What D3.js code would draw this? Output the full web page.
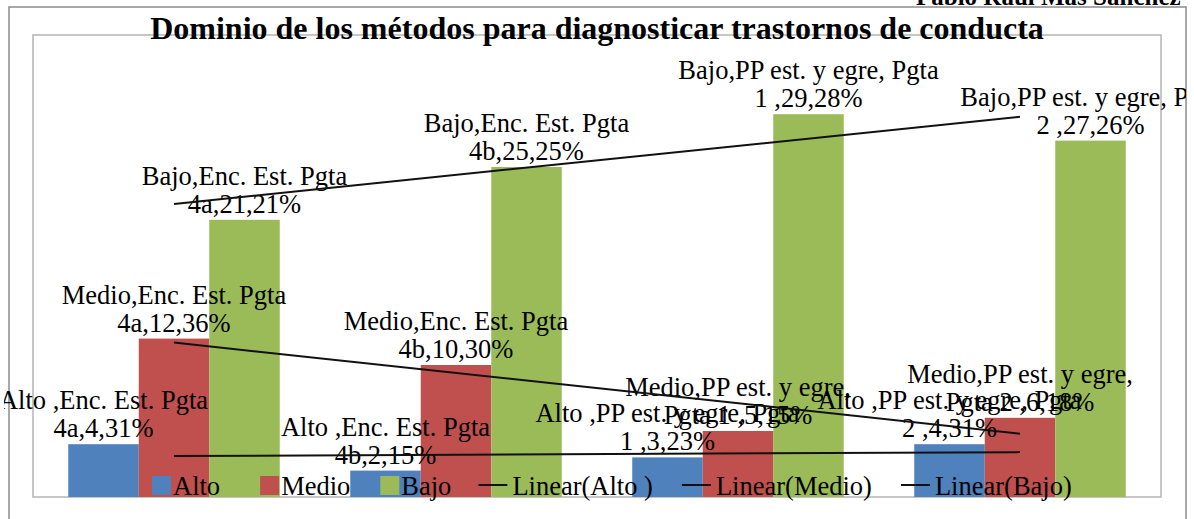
<!DOCTYPE html>
<html>
<head>
<meta charset="utf-8">
<script src="https://cdn.jsdelivr.net/npm/d3@7"></script>
<style>
  body { margin: 0; background: #fff; }
  svg text { font-family: "Liberation Serif", "Times New Roman", serif; fill: #000; }
</style>
</head>
<body>
<script>
const width = 1194, height = 519;

// chart data
const categories = ["Enc. Est. Pgta 4a", "Enc. Est. Pgta 4b", "PP est. y egre, Pgta 1 ", "PP est. y egre, Pgta 2 "];
const seriesNames = ["Alto ", "Medio", "Bajo"];
const alto = [4, 2, 3, 4];
const medio = [12, 10, 5, 6];
const bajo = [21, 25, 29, 27];
const colors = ["#4F81BD", "#C0504D", "#9BBB59"];
const title = "Dominio de los métodos para diagnosticar trastornos de conducta";
const author = "Pablo Raúl Mas Sánchez";

const series = seriesNames.map((name, i) => ({
    name: name,
    values: [alto, medio, bajo][i],
    color: colors[i]
}));

const plot = { left: 33, top: 35, right: 1161, bottom: 497 };
const fontSize = 26.5;

const svg = d3.select("body").append("svg")
    .attr("width", width)
    .attr("height", height);

// chart area + plot area frames
svg.append("rect")
    .attr("x", 9).attr("y", 7)
    .attr("width", 1177).attr("height", 600)
    .attr("fill", "#fff")
    .attr("stroke", "#8c8c8c").attr("stroke-width", 1.5);

svg.append("rect")
    .attr("x", plot.left).attr("y", plot.top)
    .attr("width", plot.right - plot.left).attr("height", plot.bottom - plot.top)
    .attr("fill", "none")
    .attr("stroke", "#b4b4b4").attr("stroke-width", 1.5);

svg.append("clipPath").attr("id", "chartClip")
  .append("rect")
    .attr("x", 4).attr("y", 0)
    .attr("width", 1182).attr("height", height);

const x0 = d3.scaleBand()
    .domain(categories)
    .range([plot.left, plot.right])
    .paddingInner(0.25)
    .paddingOuter(0.125);

const x1 = d3.scaleBand()
    .domain(seriesNames)
    .range([0, x0.bandwidth()]);

const y = d3.scaleLinear()
    .domain([0, 35])
    .range([plot.bottom, plot.top]);

// bars
const groups = svg.selectAll(".series")
    .data(series)
    .enter().append("g")
    .attr("class", "series")
    .attr("fill", d => d.color);

groups.selectAll("rect")
    .data(s => s.values.map((v, i) => ({ s: s, v: v, cat: categories[i] })))
    .enter().append("rect")
    .attr("x", d => x0(d.cat) + x1(d.s.name))
    .attr("y", d => y(d.v))
    .attr("width", x1.bandwidth())
    .attr("height", d => y(0) - y(d.v));

// data labels, wrapped like excel does
function wrapLines(textSel, str, maxW) {
    const words = str.split(" ");
    const probe = textSel.append("tspan");
    const lines = [];
    let cur = "";
    words.forEach(w => {
        const test = cur ? cur + " " + w : w;
        probe.text(test);
        if (probe.node().getComputedTextLength() > maxW && cur) {
            lines.push(cur);
            cur = w;
        } else {
            cur = test;
        }
    });
    lines.push(cur);
    probe.remove();
    return lines;
}

const labelLayer = svg.append("g").attr("clip-path", "url(#chartClip)");

series.forEach(s => {
    const total = d3.sum(s.values);
    s.values.forEach((v, i) => {
        const pct = Math.round(v / total * 100);
        const str = `${s.name},${categories[i]},${v},${pct}%`;
        const cx = x0(categories[i]) + x1(s.name) + x1.bandwidth() / 2;
        const t = labelLayer.append("text")
            .attr("text-anchor", "middle")
            .style("font-size", fontSize + "px");
        const lines = wrapLines(t, str, 272);
        const lastY = y(v) - 7;
        lines.forEach((ln, k) => {
            t.append("tspan")
                .attr("x", cx)
                .attr("y", lastY - (lines.length - 1 - k) * 28)
                .text(ln);
        });
    });
});

// linear trendlines
const xs = [1, 2, 3, 4];
series.forEach(s => {
    const mx = d3.mean(xs), my = d3.mean(s.values);
    const slope = d3.sum(xs, (xv, i) => (xv - mx) * (s.values[i] - my)) / d3.sum(xs, xv => (xv - mx) ** 2);
    const fit = xv => my + slope * (xv - mx);
    const first = categories[0], last = categories[categories.length - 1];
    svg.append("line")
        .attr("x1", x0(first) + x0.bandwidth() / 2)
        .attr("y1", y(fit(1)))
        .attr("x2", x0(last) + x0.bandwidth() / 2)
        .attr("y2", y(fit(4)))
        .attr("stroke", "#111")
        .attr("stroke-width", 2);
});

// legend
const legendItems = series.map(s => ({ type: "box", color: s.color, label: s.name.trim() }))
    .concat(series.map(s => ({ type: "line", label: `Linear(${s.name})` })));
const legendGaps = [40, 30, 27, 29, 29];

const legend = svg.append("g");
let lx = 152;
const ly = 495;
legendItems.forEach((item, i) => {
    if (item.type === "box") {
        legend.append("rect")
            .attr("x", lx).attr("y", ly - 19)
            .attr("width", 19).attr("height", 19)
            .attr("fill", item.color);
        lx += 21;
    } else {
        legend.append("line")
            .attr("x1", lx).attr("x2", lx + 29)
            .attr("y1", ly - 10).attr("y2", ly - 10)
            .attr("stroke", "#111").attr("stroke-width", 2);
        lx += 34;
    }
    const t = legend.append("text")
        .attr("x", lx).attr("y", ly)
        .style("font-size", fontSize + "px")
        .text(item.label);
    lx += t.node().getComputedTextLength() + (legendGaps[i] || 0);
});

// title and header
svg.append("text")
    .attr("x", 597)
    .attr("y", 39)
    .attr("text-anchor", "middle")
    .style("font-size", "32px")
    .style("font-weight", "bold")
    .text(title);

svg.append("text")
    .attr("x", 916)
    .attr("y", 5)
    .style("font-size", "25px")
    .style("font-weight", "bold")
    .text(author);
</script>
</body>
</html>
